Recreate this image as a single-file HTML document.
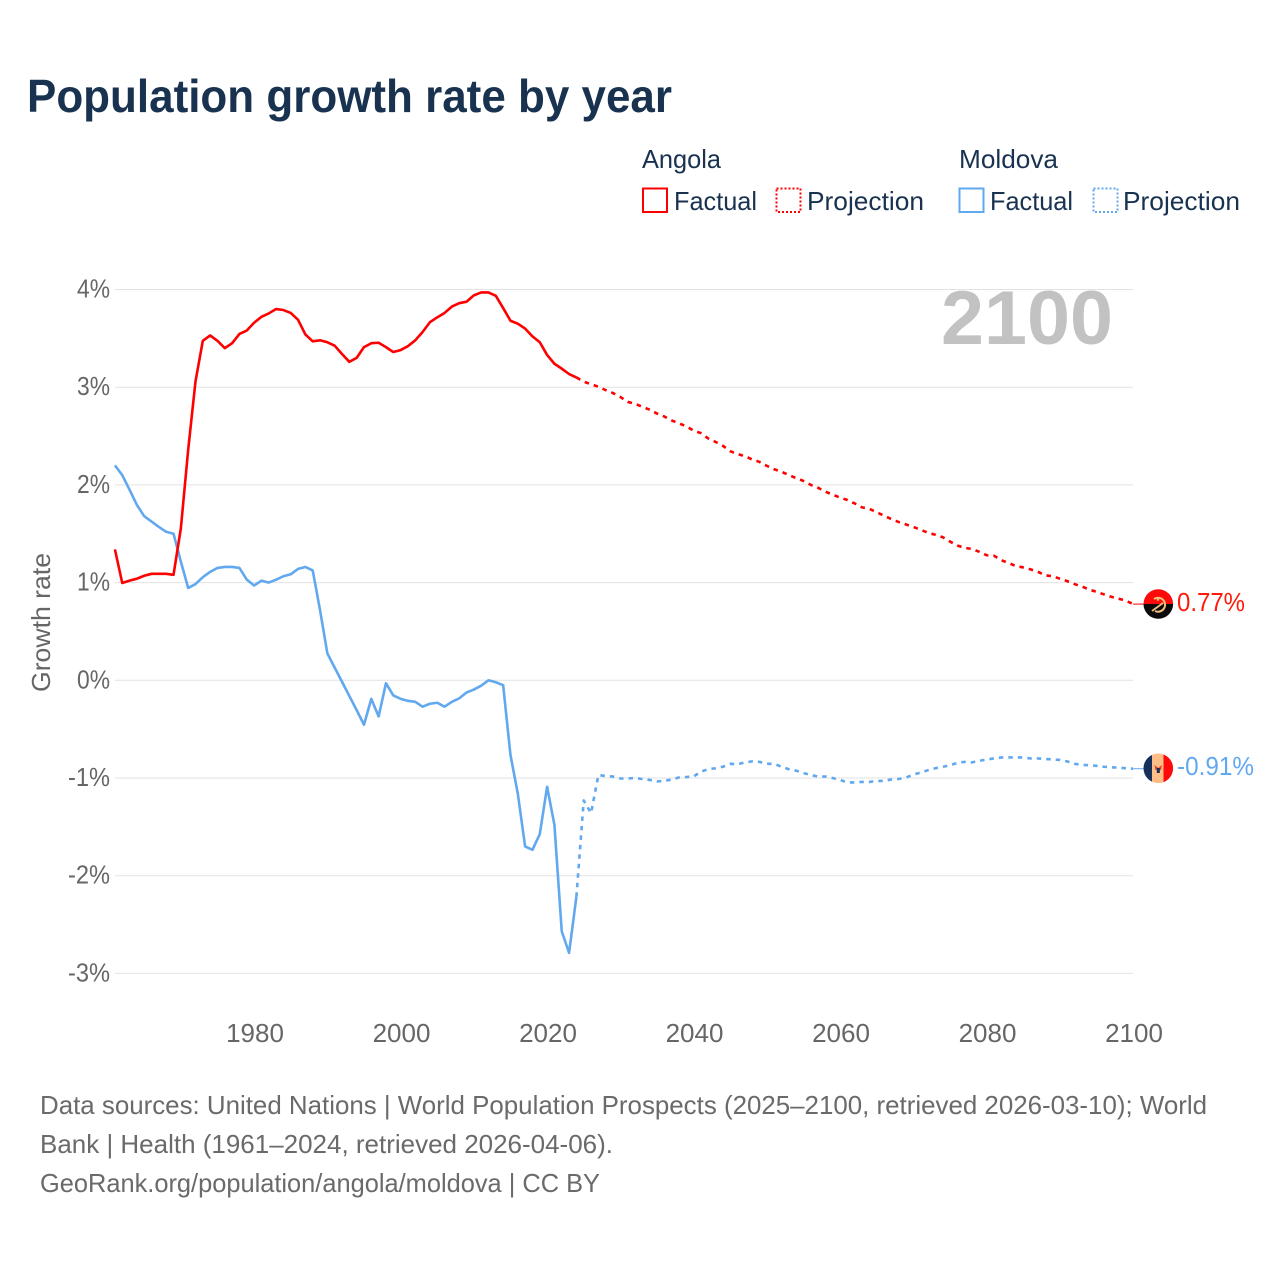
<!DOCTYPE html>
<html lang="en">
<head>
<meta charset="utf-8">
<title>Population growth rate by year</title>
<style>
html,body{margin:0;padding:0;background:#fff;}
svg{display:block;font-family:"Liberation Sans",sans-serif;}
</style>
</head>
<body>
<svg id="chart" xmlns="http://www.w3.org/2000/svg" width="1280" height="1280" viewBox="0 0 1280 1280">
  <defs>
    <clipPath id="flag-clip-a"><circle cx="1158.3" cy="604" r="14.8"/></clipPath>
    <clipPath id="flag-clip-m"><circle cx="1158.3" cy="768.3" r="14.8"/></clipPath>
  </defs>
  <rect width="1280" height="1280" fill="#fff"/>
  <text x="27" y="112" font-size="46" font-weight="700" fill="#18324f" textLength="645" lengthAdjust="spacingAndGlyphs">Population growth rate by year</text>

  <g font-size="26" fill="#18324f">
    <text x="642" y="168" textLength="79" lengthAdjust="spacingAndGlyphs">Angola</text>
    <rect x="643" y="188.500" width="24" height="23.500" fill="none" stroke="#ff0000" stroke-width="2"/>
    <text x="674" y="210" textLength="83" lengthAdjust="spacingAndGlyphs">Factual</text>
    <rect x="776.500" y="188.500" width="24" height="23.500" fill="none" stroke="#ff0000" stroke-width="2" stroke-dasharray="2 2"/>
    <text x="807" y="210" textLength="117" lengthAdjust="spacingAndGlyphs">Projection</text>
    <text x="959" y="168" textLength="99" lengthAdjust="spacingAndGlyphs">Moldova</text>
    <rect x="959.500" y="188.500" width="24" height="23.500" fill="none" stroke="#62a8ef" stroke-width="2"/>
    <text x="990" y="210" textLength="83" lengthAdjust="spacingAndGlyphs">Factual</text>
    <rect x="1093.500" y="188.500" width="24" height="23.500" fill="none" stroke="#62a8ef" stroke-width="2" stroke-dasharray="2 2"/>
    <text x="1123" y="210" textLength="117" lengthAdjust="spacingAndGlyphs">Projection</text>
  </g>

  <g id="grid"></g>
  <text x="941" y="344" font-size="76" font-weight="700" fill="#c2c2c2" textLength="172" lengthAdjust="spacingAndGlyphs">2100</text>
  <g id="y-ticks" font-size="26" fill="#666" text-anchor="end"></g>
  <g id="x-ticks" font-size="26" fill="#666" text-anchor="middle"></g>
  <text transform="translate(50,692) rotate(-90)" font-size="26" fill="#666" textLength="139" lengthAdjust="spacingAndGlyphs">Growth rate</text>
  <g id="series"></g>

  <g clip-path="url(#flag-clip-a)">
    <rect x="1143" y="589" width="31" height="15" fill="#ff0a0a"/>
    <rect x="1143" y="604" width="31" height="16" fill="#0b0b0b"/>
    <path d="M1154 599 A7 7 0 1 1 1155 611" fill="none" stroke="#f4bd78" stroke-width="2"/>
    <path d="M1152 611 L1163 603" fill="none" stroke="#f4bd78" stroke-width="1.800"/>
    <circle cx="1158" cy="599.500" r="1.300" fill="#f4bd78"/>
  </g>
  <g clip-path="url(#flag-clip-m)">
    <rect x="1143" y="753" width="9" height="31" fill="#17305a"/>
    <rect x="1152" y="753" width="11.500" height="31" fill="#ffbe85"/>
    <rect x="1163.500" y="753" width="11" height="31" fill="#ff0a0a"/>
    <path d="M1154.500 765 L1158.300 768 L1162 765 L1161 770 L1155.500 770 Z" fill="#e04030"/>
    <rect x="1156.800" y="768" width="3" height="5" fill="#17305a"/>
  </g>
  <text id="label-angola" x="1177" y="611" font-size="26" fill="#ff1a0a" textLength="68" lengthAdjust="spacingAndGlyphs"></text>
  <text id="label-moldova" x="1177" y="775" font-size="26" fill="#62a8ef" textLength="77" lengthAdjust="spacingAndGlyphs"></text>

  <g font-size="26" fill="#6a6a6a">
    <text x="40" y="1114" textLength="1167" lengthAdjust="spacingAndGlyphs">Data sources: United Nations | World Population Prospects (2025–2100, retrieved 2026-03-10); World</text>
    <text x="40" y="1153" textLength="573" lengthAdjust="spacingAndGlyphs">Bank | Health (1961–2024, retrieved 2026-04-06).</text>
    <text x="40" y="1192" textLength="560" lengthAdjust="spacingAndGlyphs">GeoRank.org/population/angola/moldova | CC BY</text>
  </g>
</svg>
<script>
const factualStartYear = 1961;
const projectionStartYear = 2024;
const yTickValues = [4, 3, 2, 1, 0, -1, -2, -3];
const yTickLabels = ['4%', '3%', '2%', '1%', '0%', '-1%', '-2%', '-3%'];
const xTickValues = [1980, 2000, 2020, 2040, 2060, 2080, 2100];
const xTickLabels = ['1980', '2000', '2020', '2040', '2060', '2080', '2100'];
const endLabels = ['0.77%', '-0.91%'];
const angolaFactual = [1.34,0.996,1.02,1.04,1.07,1.09,1.09,1.09,1.08,1.555,2.36,3.06,3.475,3.53,3.475,3.40,3.45,3.545,3.58,3.66,3.72,3.755,3.80,3.79,3.76,3.69,3.54,3.47,3.48,3.46,3.425,3.34,3.26,3.30,3.41,3.45,3.455,3.41,3.36,3.38,3.42,3.48,3.565,3.665,3.715,3.76,3.825,3.86,3.875,3.94,3.97,3.97,3.935,3.81,3.68,3.65,3.60,3.52,3.46,3.33,3.24,3.19,3.135,3.10];
const angolaProjection = [3.10,3.056,3.03,3.005,2.97,2.94,2.90,2.85,2.83,2.80,2.77,2.73,2.70,2.66,2.63,2.60,2.555,2.53,2.475,2.44,2.40,2.345,2.315,2.295,2.26,2.235,2.195,2.16,2.135,2.10,2.07,2.04,2.00,1.97,1.93,1.90,1.87,1.845,1.81,1.77,1.755,1.72,1.685,1.65,1.62,1.595,1.57,1.54,1.51,1.49,1.465,1.42,1.38,1.355,1.345,1.315,1.28,1.275,1.23,1.20,1.17,1.155,1.135,1.11,1.075,1.065,1.04,1.015,0.985,0.96,0.93,0.905,0.88,0.855,0.835,0.815,0.78];
const moldovaFactual = [2.20,2.10,1.95,1.795,1.68,1.625,1.57,1.52,1.50,1.215,0.945,0.985,1.055,1.11,1.15,1.16,1.16,1.15,1.03,0.97,1.02,1.00,1.03,1.065,1.085,1.14,1.16,1.125,0.72,0.275,0.13,-0.015,-0.16,-0.305,-0.455,-0.19,-0.37,-0.03,-0.155,-0.19,-0.21,-0.22,-0.27,-0.24,-0.23,-0.27,-0.22,-0.185,-0.125,-0.095,-0.055,0.0,-0.02,-0.05,-0.765,-1.16,-1.70,-1.735,-1.575,-1.09,-1.48,-2.57,-2.79,-2.215];
const moldovaProjection = [-2.215,-1.23,-1.36,-0.97,-0.98,-0.985,-1.005,-1.005,-1.00,-1.01,-1.02,-1.035,-1.03,-1.015,-0.995,-0.99,-0.985,-0.935,-0.91,-0.90,-0.885,-0.855,-0.86,-0.84,-0.83,-0.835,-0.855,-0.855,-0.885,-0.91,-0.925,-0.95,-0.97,-0.985,-0.985,-1.00,-1.02,-1.045,-1.045,-1.04,-1.04,-1.03,-1.03,-1.015,-1.01,-0.995,-0.965,-0.945,-0.92,-0.90,-0.885,-0.87,-0.845,-0.835,-0.84,-0.825,-0.81,-0.80,-0.79,-0.79,-0.79,-0.79,-0.80,-0.80,-0.805,-0.81,-0.815,-0.83,-0.855,-0.865,-0.87,-0.875,-0.885,-0.89,-0.895,-0.90,-0.905];

const NS = 'http://www.w3.org/2000/svg';
const plotLeft = 115;
const plotRight = 1133;
function xScale(year) { return 254.1 + (year - 1980) * 7.325; }
function yScale(value) { return 680.3 - value * 97.7; }

const grid = document.getElementById('grid');
const yGroup = document.getElementById('y-ticks');
yTickValues.forEach(function (v, i) {
  const line = document.createElementNS(NS, 'line');
  
  
  line.setAttribute('x1', plotLeft);
  line.setAttribute('x2', plotRight);
  line.setAttribute('y1', yScale(v));
  line.setAttribute('y2', yScale(v));
  line.setAttribute('stroke', '#e2e2e2');
  line.setAttribute('stroke-width', '1');
  grid.appendChild(line);
  const t = document.createElementNS(NS, 'text');
  
  
  t.setAttribute('x', 110);
  t.setAttribute('y', yScale(v) + 8);
  t.setAttribute('textLength', yTickLabels[i].length === 2 ? 33 : 42);
  t.setAttribute('lengthAdjust', 'spacingAndGlyphs');
  t.textContent = yTickLabels[i];
  yGroup.appendChild(t);
});

const xGroup = document.getElementById('x-ticks');
xTickValues.forEach(function (v, i) {
  const t = document.createElementNS(NS, 'text');
  
  
  t.setAttribute('x', xScale(v) + 0.9);
  t.setAttribute('y', 1042);
  t.textContent = xTickLabels[i];
  xGroup.appendChild(t);
});

function pathFrom(values, startYear) {
  return values.map(function (v, i) {
    return (i ? 'L' : 'M') + xScale(startYear + i).toFixed(2) + ' ' + yScale(v).toFixed(2);
  }).join(' ');
}
const seriesGroup = document.getElementById('series');
function drawLine(values, startYear, color, dashed, name) {
  const p = document.createElementNS(NS, 'path');
  
  
  p.setAttribute('d', pathFrom(values, startYear));
  p.setAttribute('fill', 'none');
  p.setAttribute('stroke', color);
  p.setAttribute('stroke-width', '2.6');
  p.setAttribute('stroke-linejoin', 'round');
  if (dashed) p.setAttribute('stroke-dasharray', '4.5 5');
  seriesGroup.appendChild(p);
}
function drawConnector(values, color, name) {
  const last = values[values.length - 1];
  const c = document.createElementNS(NS, 'line');
  
  
  c.setAttribute('x1', xScale(2100));
  c.setAttribute('x2', 1145);
  c.setAttribute('y1', yScale(last));
  c.setAttribute('y2', yScale(last));
  c.setAttribute('stroke', color);
  c.setAttribute('stroke-width', '1');
  seriesGroup.appendChild(c);
}
drawLine(moldovaFactual, factualStartYear, '#62a8ef', false, 'line-moldova-factual');
drawLine(moldovaProjection, projectionStartYear, '#62a8ef', true, 'line-moldova-projection');
drawLine(angolaFactual, factualStartYear, '#ff0000', false, 'line-angola-factual');
drawLine(angolaProjection, projectionStartYear, '#ff0000', true, 'line-angola-projection');
drawConnector(angolaProjection, '#ff0000', 'connector-angola');
drawConnector(moldovaProjection, '#62a8ef', 'connector-moldova');

document.getElementById('label-angola').textContent = endLabels[0];
document.getElementById('label-moldova').textContent = endLabels[1];
</script>
</body>
</html>
